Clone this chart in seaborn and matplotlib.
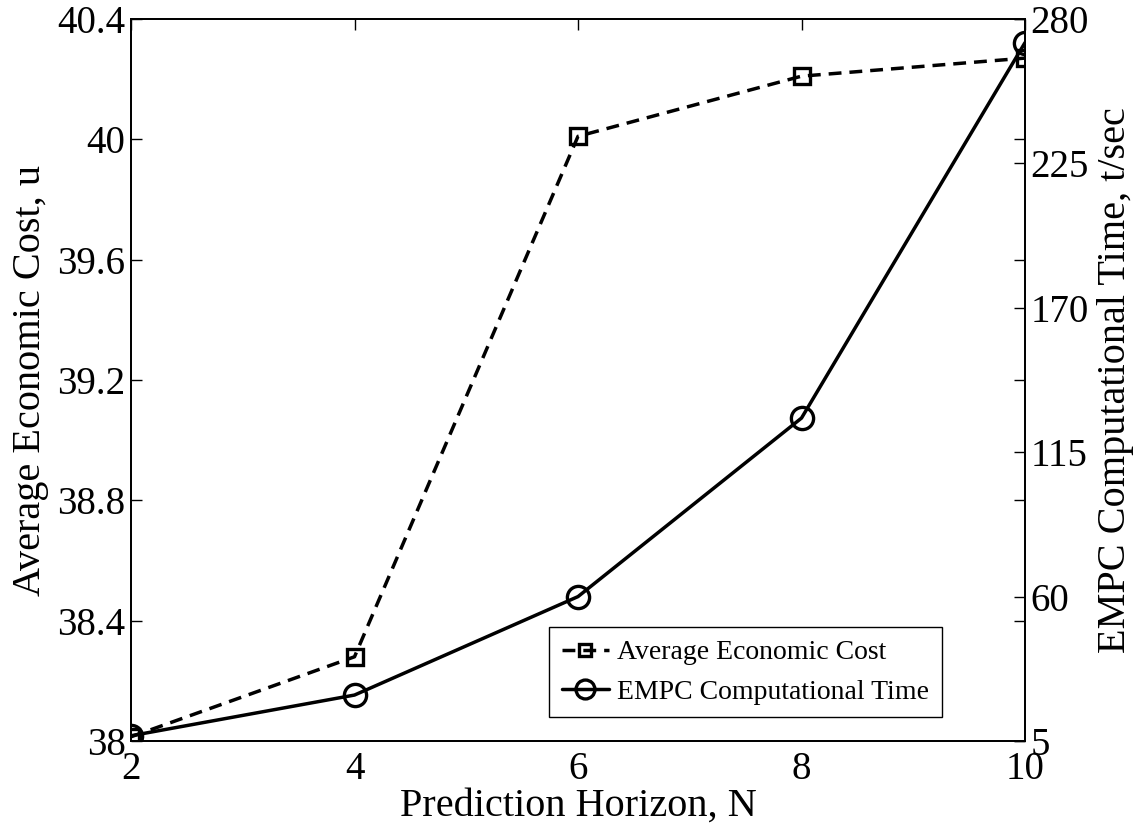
import matplotlib
matplotlib.use("Agg")
import matplotlib.pyplot as plt
import seaborn as sns
import pandas as pd

horizon = [2, 4, 6, 8, 10]
avg_cost = [38.014, 38.28, 40.01, 40.21, 40.27]
comp_time = [7, 22.5, 60, 128, 271]

cost_ticks = [38, 38.4, 38.8, 39.2, 39.6, 40, 40.4]
cost_ticklabels = ["38", "38.4", "38.8", "39.2", "39.6", "40", "40.4"]
time_ticks = [5, 60, 115, 170, 225, 280]
x_ticks = [2, 4, 6, 8, 10]

sns.set_style("white")
plt.rcParams['font.family'] = ['Liberation Serif', 'DejaVu Serif']
plt.rcParams['text.color'] = 'black'
plt.rcParams['axes.labelcolor'] = 'black'

df = pd.DataFrame({"N": horizon, "cost": avg_cost, "time": comp_time})

fig = plt.figure(figsize=(11.45, 8.27), dpi=100)
ax = fig.add_axes([131/1145, 86/827, (1025-131)/1145, (741-19)/827])
ax2 = ax.twinx()

sns.lineplot(data=df, x="N", y="cost", ax=ax, color="black", linestyle=(0, (3.7, 2.3)),
             linewidth=2.5, marker="s", markersize=11, markerfacecolor="none",
             markeredgecolor="black", markeredgewidth=2.4, label="Average Economic Cost",
             legend=False)
sns.lineplot(data=df, x="N", y="time", ax=ax2, color="black", linestyle="-",
             linewidth=2.5, marker="o", markersize=16, markerfacecolor="none",
             markeredgecolor="black", markeredgewidth=2.4, label="EMPC Computational Time",
             legend=False)

ax.set_xlim(2, 10)
ax.set_ylim(38, 40.4)
ax2.set_ylim(5, 280)
ax.set_xticks(x_ticks)
ax.set_xticklabels([str(v) for v in x_ticks])
ax.set_yticks(cost_ticks)
ax.set_yticklabels(cost_ticklabels)
ax2.set_yticks(time_ticks)
ax2.set_yticklabels([str(v) for v in time_ticks])

for a in (ax, ax2):
    for s in a.spines.values():
        s.set_visible(True)
        s.set_color("black")
        s.set_linewidth(1.3)

ax.tick_params(axis="both", direction="in", length=8, width=1, labelsize=28,
               top=True, right=True, colors="black")
ax.tick_params(axis="x", pad=7)
ax.tick_params(axis="y", pad=4)
ax2.tick_params(axis="y", direction="in", length=8, width=1, labelsize=28,
                right=True, left=False, pad=4, colors="black")

ax.set_xlabel("Prediction Horizon, N", fontsize=29, labelpad=0, color="black")
ax.set_ylabel("Average Economic Cost, u", fontsize=29, labelpad=6, color="black")
ax2.set_ylabel("EMPC Computational Time, t/sec", fontsize=29, labelpad=6, color="black")
ax.grid(False)
ax2.grid(False)

h1, l1 = ax.get_legend_handles_labels()
h2, l2 = ax2.get_legend_handles_labels()
leg = ax2.legend(h1 + h2, l1 + l2, loc="lower right", bbox_to_anchor=(0.907, 0.033),
                 fontsize=20, frameon=True, fancybox=False, edgecolor="black",
                 handlelength=1.7, handletextpad=0.3, borderpad=0.45, labelspacing=0.5,
                 borderaxespad=0, markerscale=0.85)
leg.get_frame().set_linewidth(1.0)
leg.get_frame().set_facecolor("white")
leg.get_frame().set_alpha(1)
for t in leg.get_texts():
    t.set_color("black")

fig.savefig("out.png", dpi=100)
